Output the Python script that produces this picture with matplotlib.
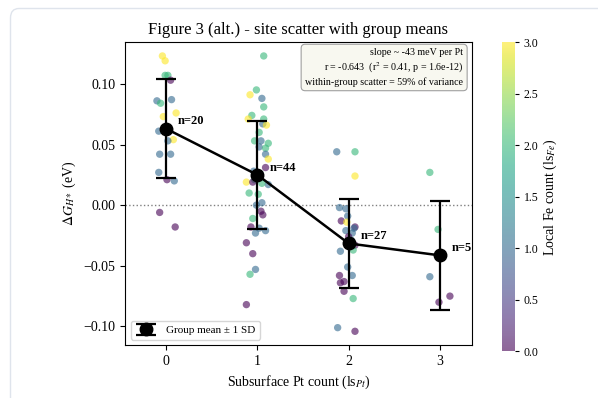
import numpy as np
import matplotlib
matplotlib.use("Agg")
import matplotlib.pyplot as plt
from matplotlib.patches import PathPatch
from matplotlib.path import Path

plt.rcParams['font.family'] = 'serif'
plt.rcParams['font.serif'] = ['Liberation Serif', 'DejaVu Serif']
plt.rcParams['mathtext.fontset'] = 'stix'

# per-group data: jitter offset, dG_H* (eV), local Fe count
dx0 = [-0.04, -0.01, -0.01, 0.02, 0.05, -0.10, -0.06, 0.06, -0.03, 0.11,
       -0.08, 0.08, -0.07, 0.05, -0.08, 0.01, 0.09, -0.07, 0.10, 0.02]
dg0 = [0.123, 0.119, 0.107, 0.107, 0.103, 0.086, 0.084, 0.087, 0.073, 0.076,
       0.061, 0.054, 0.042, 0.042, 0.027, 0.021, 0.020, -0.006, -0.018, 0.053]
fe0 = [3, 3, 2, 2, 0, 1, 2, 1, 3, 3, 1, 3, 1, 1, 1, 0, 1, 0, 0, 1]

dx1 = [0.07, -0.01, -0.08, 0.05, 0.07, -0.06, -0.10, 0.07, 0.06, 0.10,
       0.02, -0.03, 0.04, 0.12, 0.02, 0.09, 0.09, 0.12, 0.09, -0.04,
       0.01, -0.12, 0.12, -0.09, 0.01, 0.05, -0.01, 0.04, 0.06, -0.05,
       -0.07, 0.02, 0.09, -0.02, -0.12, -0.05, -0.02, -0.08, -0.12,
       0.00, -0.03, 0.03, 0.05, -0.05]
dg1 = [0.123, 0.095, 0.091, 0.088, 0.081, 0.074, 0.071, 0.071, 0.067, 0.066,
       0.060, 0.053, 0.053, 0.051, 0.048, 0.047, 0.042, 0.038, 0.031, 0.028,
       0.024, 0.019, 0.017, 0.010, 0.009, 0.002, 0.000, -0.005, -0.008, -0.011,
       -0.018, -0.019, -0.021, -0.023, -0.031, -0.040, -0.053, -0.057, -0.082,
       0.024, 0.021, 0.026, 0.018, 0.019]
fe1 = [2, 2, 3, 1, 2, 2, 3, 2, 1, 3,
       2, 2, 1, 2, 1, 2, 1, 3, 0, 1,
       1, 3, 1, 2, 2, 1, 1, 0, 0, 2,
       0, 1, 1, 1, 0, 0, 1, 2, 0,
       1, 2, 1, 2, 0]

dx2 = [-0.13, 0.07, 0.07, -0.10, -0.03, -0.01, -0.08, -0.02, 0.07, 0.06,
       -0.03, 0.04, 0.07, 0.05, -0.09, -0.01, 0.04, -0.10, -0.09, -0.05,
       -0.05, 0.05, -0.12, 0.07, 0.00, 0.03, -0.02]
dg2 = [0.044, 0.044, 0.024, -0.002, -0.003, -0.009, -0.013, -0.014, -0.018, -0.019,
       -0.021, -0.023, -0.033, -0.037, -0.038, -0.051, -0.058, -0.058, -0.064, -0.063,
       -0.071, -0.077, -0.101, -0.104, -0.026, -0.029, -0.032]
fe2 = [1, 2, 3, 1, 1, 1, 0, 3, 0, 1,
       1, 1, 0, 2, 1, 1, 1, 0, 0, 0,
       0, 2, 1, 0, 0, 1, 0]

dx3 = [-0.11, -0.02, -0.11, 0.11, -0.01]
dg3 = [0.027, -0.020, -0.059, -0.075, -0.080]
fe3 = [2, 2, 1, 0, 0]

pt_levels = [0, 1, 2, 3]
groups_dx = [dx0, dx1, dx2, dx3]
groups_dg = [dg0, dg1, dg2, dg3]
groups_fe = [fe0, fe1, fe2, fe3]

stats_lines = ["slope ~ -43 meV per Pt",
               r"r = -0.643  (r$^2$ = 0.41, p = 1.6e-12)",
               "within-group scatter = 59% of variance"]

fig = plt.figure(figsize=(5.98, 3.98), dpi=100)
ax = fig.add_axes([0.209, 0.133, 0.580, 0.761])
cax = fig.add_axes([0.840, 0.117, 0.021, 0.777])

# card border: only the top-left corner is visible (display coords)
verts = [(10.5, -5), (10.5, 380), (10.5, 389.5), (19, 389.5), (605, 389.5)]
codes = [Path.MOVETO, Path.LINETO, Path.CURVE3, Path.CURVE3, Path.LINETO]
fig.patches.append(PathPatch(Path(verts, codes), transform=None, fill=False,
                             ec='#dfe4ec', lw=1.0, zorder=-1))

xs = np.concatenate([np.array(d) + p for d, p in zip(groups_dx, pt_levels)])
ys = np.concatenate([np.array(g) for g in groups_dg])
cs = np.concatenate([np.array(f) for f in groups_fe])

sc = ax.scatter(xs, ys, c=cs, cmap='viridis', vmin=0, vmax=3, s=28,
                alpha=0.6, linewidths=0, zorder=2)

means = [np.mean(g) for g in groups_dg]
sds = [np.std(g, ddof=1) for g in groups_dg]
ns = [len(g) for g in groups_dg]

ax.axhline(0, color='gray', ls=':', lw=1.0, zorder=1)
ax.plot(pt_levels, means, '-', color='black', lw=1.8, zorder=3)
ax.errorbar(pt_levels, means, yerr=sds, fmt='o', color='black', ms=9,
            capsize=7, elinewidth=1.6, capthick=1.6, zorder=4,
            label='Group mean \u00b1 1 SD')
for p, m, n in zip(pt_levels, means, ns):
    ax.text(p + 0.13, m + 0.006, f"n={n}", fontsize=9, fontweight='bold',
            ha='left', va='center')

ax.text(0.975, 0.98, "\n".join(stats_lines), transform=ax.transAxes,
        ha='right', va='top', fontsize=7.2, multialignment='right',
        linespacing=1.3,
        bbox=dict(boxstyle='round,pad=0.4', fc='#f8f8f0', ec='#a0a0a0', lw=0.8))

ax.set_xlim(-0.45, 3.35)
ax.set_xticks(pt_levels)
ax.set_xlabel(r"Subsurface Pt count (ls$_{Pt}$)", fontsize=10)
ax.set_ylabel(r"$\Delta G_{H*}$ (eV)", fontsize=10)
ax.set_title("Figure 3 (alt.) - site scatter with group means", fontsize=12)
ax.legend(loc='lower left', fontsize=8)

cb = fig.colorbar(sc, cax=cax)
cb.set_label(r"Local Fe count (ls$_{Fe}$)", fontsize=10, labelpad=2)
cb.outline.set_visible(False)
cax.tick_params(labelsize=8.5, length=3)

fig.savefig("out.png", dpi=100)
